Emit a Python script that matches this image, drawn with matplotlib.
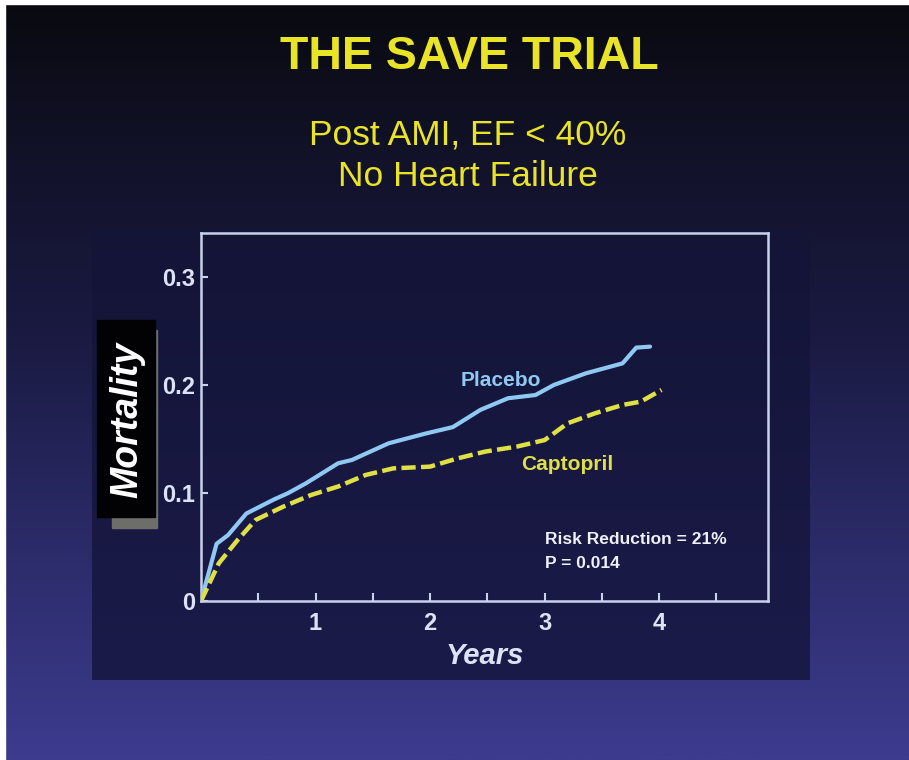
import numpy as np
import matplotlib
matplotlib.use("Agg")
import matplotlib.pyplot as plt
from matplotlib.patches import Rectangle
from matplotlib.colors import LinearSegmentedColormap
from matplotlib.ticker import FixedLocator, FuncFormatter

# ---- data ----
placebo_years = [0.0, 0.136, 0.236, 0.396, 0.637, 0.757, 0.917, 1.197, 1.318, 1.638,
                 1.959, 2.199, 2.44, 2.68, 2.92, 3.08, 3.36, 3.68, 3.80, 3.92]
placebo_mort = [0.0, 0.053, 0.061, 0.081, 0.094, 0.0997, 0.109, 0.1275, 0.1306, 0.146,
                0.155, 0.161, 0.177, 0.1877, 0.1907, 0.200, 0.2108, 0.220, 0.2346, 0.2355]
capto_years = [0.0, 0.156, 0.316, 0.476, 0.717, 0.957, 1.197, 1.438, 1.678, 1.999,
               2.239, 2.48, 2.76, 3.0, 3.20, 3.44, 3.68, 3.84, 4.02]
capto_mort = [0.0, 0.035, 0.056, 0.075, 0.0873, 0.098, 0.106, 0.1167, 0.1228, 0.1244,
              0.132, 0.1383, 0.143, 0.149, 0.1645, 0.1738, 0.1815, 0.1846, 0.1954]
x_major = [1, 2, 3, 4]
x_minor = [0.5, 1.5, 2.5, 3.5, 4.5]
y_ticks = [0, 0.1, 0.2, 0.3]

W, H = 909, 760
fig = plt.figure(figsize=(W / 100, H / 100), dpi=100)

def fx(px):
    return px / W

def fy(py):
    return 1 - py / H

# ---- background gradient ----
bg = fig.add_axes([0, 0, 1, 1], zorder=-10)
bg.set_axis_off()
grad = np.linspace(0, 1, 256).reshape(-1, 1) ** 0.85
cmap_bg = LinearSegmentedColormap.from_list("bg", ["#09090e", "#1a1a42", "#3c3b8e"])
bg.imshow(grad, aspect="auto", cmap=cmap_bg, extent=[0, 1, 0, 1], origin="upper")
bg.set_xlim(0, 1)
bg.set_ylim(0, 1)
bg.add_patch(Rectangle((0, fy(4)), 1, 4 / H, color="white", transform=bg.transAxes))
bg.add_patch(Rectangle((0, 0), 5 / W, 1, color="white", transform=bg.transAxes))

# inner dark panel
panel = fig.add_axes([fx(92), fy(680), fx(810) - fx(92), fy(228) - fy(680)], zorder=-5)
panel.set_axis_off()
pgrad = np.linspace(0, 1, 256).reshape(-1, 1)
cmap_p = LinearSegmentedColormap.from_list("p", ["#131436", "#1b1b4a"])
panel.imshow(pgrad, aspect="auto", cmap=cmap_p, extent=[0, 1, 0, 1], origin="upper")

# ---- titles ----
yellow = "#e9e526"
fig.text(fx(469), fy(57), "THE SAVE TRIAL", color=yellow, fontsize=33.5, fontweight="bold",
         family=["Liberation Sans", "DejaVu Sans"], ha="center", va="center")
fig.text(fx(468), fy(135), "Post AMI, EF < 40%", color=yellow, fontsize=25.5,
         family=["Liberation Sans", "DejaVu Sans"], ha="center", va="center")
fig.text(fx(468), fy(177), "No Heart Failure", color=yellow, fontsize=25.5,
         family=["Liberation Sans", "DejaVu Sans"], ha="center", va="center")

# ---- main axes ----
ax = fig.add_axes([fx(201), fy(601), fx(768) - fx(201), fy(233) - fy(601)])
ax.set_facecolor("none")
ax.set_xlim(0, 4.95)
ax.set_ylim(0, 0.3407)

blue = "#8fc9f2"
ycap = "#dfe043"
ax.plot(placebo_years, placebo_mort, color=blue, lw=3.0, solid_capstyle="round",
        solid_joinstyle="round", zorder=3)
ax.plot(capto_years, capto_mort, color=ycap, lw=3.2, dashes=(3.2, 1.2), zorder=4)

spine_c = "#c9d2ec"
for s in ax.spines.values():
    s.set_color(spine_c)
    s.set_linewidth(1.8)

narrow = ["Liberation Sans Narrow", "Liberation Sans", "DejaVu Sans"]
ax.xaxis.set_major_locator(FixedLocator(x_major))
ax.xaxis.set_minor_locator(FixedLocator(x_minor))
ax.yaxis.set_major_locator(FixedLocator(y_ticks))
ax.yaxis.set_major_formatter(FuncFormatter(lambda v, p: "0" if v == 0 else f"{v:.1f}"))
ax.tick_params(axis="x", which="both", direction="in", length=6, width=1.5, color=spine_c,
               top=False, pad=8)
ax.tick_params(axis="y", which="major", direction="in", length=5, width=1.5, color=spine_c,
               right=False, pad=4)
for lab in ax.get_xticklabels() + ax.get_yticklabels():
    lab.set_color("#dde3f5")
    lab.set_fontsize(17)
    lab.set_fontweight("bold")
    lab.set_family(narrow)

ax.set_xlabel("Years", color="#dde3f5", fontsize=21, fontweight="bold", style="italic",
              family=["Liberation Sans", "DejaVu Sans"], labelpad=5)

# curve labels and stats
ax.text(2.62, 0.204, "Placebo", color=blue, fontsize=15, fontweight="bold",
        family=narrow, ha="center", va="center")
ax.text(3.20, 0.126, "Captopril", color=ycap, fontsize=15, fontweight="bold",
        family=narrow, ha="center", va="center")
ax.text(3.0, 0.0565, "Risk Reduction = 21%", color="#eef0fa", fontsize=12.5, fontweight="bold",
        family=narrow, ha="left", va="center")
ax.text(3.0, 0.035, "P = 0.014", color="#eef0fa", fontsize=12.5, fontweight="bold",
        family=narrow, ha="left", va="center")

# ---- Mortality label box ----
lab_ax = fig.add_axes([0, 0, 1, 1], zorder=-1)
lab_ax.set_axis_off()
lab_ax.set_xlim(0, W)
lab_ax.set_ylim(H, 0)
lab_ax.add_patch(Rectangle((112, 330), 45, 198, color="#6d6d6a"))
lab_ax.add_patch(Rectangle((97, 320), 58, 197, color="#020204"))
lab_ax.text(127, 420, "Mortality", color="white", fontsize=27, fontweight="bold",
            style="italic", rotation=90, ha="center", va="center",
            family=["Liberation Sans", "DejaVu Sans"])

fig.savefig("out.png", dpi=100)
